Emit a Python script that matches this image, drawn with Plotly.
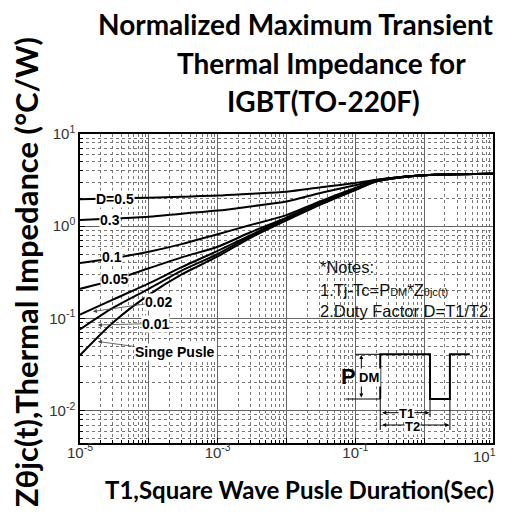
import plotly.graph_objects as go

# ---------------- data ----------------
t1 = [1e-5, 3e-5, 1e-4, 3e-4, 1e-3, 3e-3, 1e-2, 3e-2, 1e-1, 2e-1, 5e-1, 1, 3, 10]
z_d05 = [1.96, 2.00, 2.04, 2.09, 2.15, 2.25, 2.37, 2.63, 2.95, 3.20, 3.45, 3.58, 3.66, 3.70]
z_d03 = [1.17, 1.21, 1.27, 1.37, 1.48, 1.64, 1.85, 2.28, 2.78, 3.16, 3.44, 3.58, 3.66, 3.70]
z_d01 = [0.40, 0.45, 0.53, 0.64, 0.82, 1.03, 1.32, 1.85, 2.60, 3.12, 3.43, 3.58, 3.66, 3.70]
z_d005 = [0.21, 0.26, 0.35, 0.46, 0.60, 0.86, 1.24, 1.78, 2.55, 3.10, 3.43, 3.58, 3.66, 3.70]
z_d002 = [0.11, 0.16, 0.24, 0.36, 0.54, 0.80, 1.22, 1.75, 2.52, 3.08, 3.42, 3.58, 3.66, 3.70]
z_d001 = [0.076, 0.13, 0.21, 0.33, 0.50, 0.78, 1.19, 1.72, 2.50, 3.06, 3.42, 3.58, 3.66, 3.70]
z_single = [0.040, 0.09, 0.18, 0.30, 0.47, 0.75, 1.16, 1.70, 2.47, 3.05, 3.42, 3.58, 3.66, 3.70]

series = [z_d05, z_d03, z_d01, z_d005, z_d002, z_d001, z_single]
series_names = ["D=0.5", "0.3", "0.1", "0.05", "0.02", "0.01", "Singe Pusle"]

x_decades = [1e-5, 1e-4, 1e-3, 1e-2, 1e-1, 1, 10]
x_ticktext = ["10<sup>-5</sup>", "", "10<sup>-3</sup>", "", "10<sup>-1</sup>", "", ""]
x_last_label = "10<sup>1</sup>"   # drawn as an annotation so it stays inside the page
y_decades = [1e-2, 1e-1, 1, 10]
y_ticktext = ["10<sup>-2</sup>", "10<sup>-1</sup>", "10<sup>0</sup>", "10<sup>1</sup>"]

# ---------------- layout geometry (screen pixels of the reference) ----------------
OFF = 8                       # default page body margin
W, H = 508 - 2 * OFF, 514 - 2 * OFF   # figure fits the window without scrollbars
L, R, T, B = 80, 495, 134, 443       # plot area on screen


def PX(p):
    return (p - L) / (R - L)


def PY(p):
    return (B - p) / (B - T)


minor_x = [k * 10.0 ** e for e in range(-5, 1) for k in range(2, 10)]
minor_y = [k * 10.0 ** e for e in range(-3, 1) for k in range(2, 10)]

fig = go.Figure()
for name, z in zip(series_names, series):
    fig.add_trace(go.Scatter(x=t1, y=z, mode="lines", name=name,
                             line=dict(color="black", width=2, shape="spline", smoothing=0.8),
                             showlegend=False, hoverinfo="skip"))

tick_font = dict(family="Arial, Liberation Sans", size=15, color="#333")
axis_common = dict(
    type="log", showline=True, linecolor="black", linewidth=1.5, mirror=True,
    ticks="inside", ticklen=5, tickcolor="black", showgrid=True, gridcolor="#666",
    gridwidth=1, zeroline=False, tickfont=tick_font,
)
fig.update_xaxes(range=[-5, 1], tickvals=x_decades, ticktext=x_ticktext,
                 ticklabelstandoff=-5,
                 minor=dict(tickvals=minor_x, ticks="inside", ticklen=3, tickcolor="black",
                            showgrid=True, gridcolor="#777", griddash="dot", gridwidth=1),
                 **axis_common)
fig.update_yaxes(range=[-2.35, 1], tickvals=y_decades, ticktext=y_ticktext,
                 minor=dict(tickvals=minor_y, ticks="inside", ticklen=3, tickcolor="black",
                            showgrid=True, gridcolor="#777", griddash="dot", gridwidth=1),
                 **axis_common)

ann = []
ann.append(dict(text=x_last_label, x=PX(500), y=PY(455), xref="paper", yref="paper",
                showarrow=False, font=tick_font, xanchor="right", yanchor="middle"))

title_font = dict(family="Lato, Open Sans", size=28, color="black")
for txt, cx, cy in [("<b>Normalized Maximum Transient</b>", 297, 24),
                    ("<b>Thermal Impedance for</b>", 323, 63),
                    ("<b>IGBT(TO-220F)</b>", 325, 101)]:
    ann.append(dict(text=txt, x=PX(cx), y=PY(cy), xref="paper", yref="paper",
                    showarrow=False, font=title_font, xanchor="center", yanchor="middle"))

ann.append(dict(text="<b>Zθjc(t),Thermal Impedance (°C/W)</b>", x=PX(26), y=PY(272),
                xref="paper", yref="paper", showarrow=False, textangle=-90,
                font=dict(family="Lato, Open Sans", size=31, color="black"),
                xanchor="center", yanchor="middle"))
ann.append(dict(text="<b>T1,Square Wave Pusle Duration(Sec)</b>", x=PX(301), y=PY(489),
                xref="paper", yref="paper", showarrow=False,
                font=dict(family="Lato, Open Sans", size=24, color="black"),
                xanchor="center", yanchor="middle"))

lab_font = dict(family="Arial, Liberation Sans", size=14, color="black")
for txt, cx, cy in [("D=0.5", 115, 199), ("0.3", 110.5, 220), ("0.1", 112, 257), ("0.05", 115, 279)]:
    ann.append(dict(text="<b>%s</b>" % txt, x=PX(cx), y=PY(cy), xref="paper", yref="paper",
                    showarrow=False, font=lab_font, bgcolor="white", borderpad=0,
                    xanchor="center", yanchor="middle"))

for txt, cx, cy, tx, ty in [("0.02", 159, 302, 93, 311.5), ("0.01", 155.5, 323.5, 98, 325),
                            ("Singe Pusle", 175, 352, 98, 341.5)]:
    ann.append(dict(text="<b>%s</b>" % txt, x=PX(tx), y=PY(ty), xref="paper", yref="paper",
                    ax=cx - tx, ay=cy - ty, axref="pixel", ayref="pixel",
                    showarrow=True, arrowhead=2, arrowsize=1, arrowwidth=0.8, arrowcolor="#444",
                    font=lab_font, bgcolor="white", borderpad=0))

note_font = dict(family="Arial, Liberation Sans", size=16.5, color="#111")
sm = "<span style='font-size:11px'>%s</span>"
for txt, cy in [("*Notes:", 267), ("1.Tj-Tc=P" + sm % "DM" + "*Z" + sm % "θjc(t)", 290),
                ("2.Duty Factor D=T1/T2", 311)]:
    ann.append(dict(text=txt, x=PX(319), y=PY(cy), xref="paper", yref="paper",
                    showarrow=False, font=note_font, xanchor="left", yanchor="middle"))

# PDM label and dimension arrows of the pulse sketch
ann.append(dict(text="<b>P</b>", x=PX(349.5), y=PY(376), xref="paper", yref="paper",
                showarrow=False, font=dict(family="Arial, Liberation Sans", size=22, color="black"),
                xanchor="center", yanchor="middle"))
arrow_common = dict(xref="paper", yref="paper", axref="pixel", ayref="pixel", text="",
                    showarrow=True, arrowhead=2, arrowsize=0.8, arrowwidth=1,
                    arrowcolor="black", arrowside="end+start")
ann.append(dict(x=PX(362.7), y=PY(355), ax=0, ay=399 - 355, **arrow_common))
ann.append(dict(x=PX(431), y=PY(412.7), ax=382.5 - 431, ay=0, **arrow_common))
ann.append(dict(x=PX(451), y=PY(425), ax=382.5 - 451, ay=0, **arrow_common))
ann.append(dict(text="<b>DM</b>", x=PX(370), y=PY(377), xref="paper", yref="paper",
                showarrow=False, font=dict(family="Arial, Liberation Sans", size=13, color="black"),
                bgcolor="white", borderpad=1, xanchor="center", yanchor="middle"))
for txt, cx, cy in [("T1", 408, 413), ("T2", 414, 426)]:
    ann.append(dict(text="<b>%s</b>" % txt, x=PX(cx), y=PY(cy), xref="paper", yref="paper",
                    showarrow=False, font=dict(family="Arial, Liberation Sans", size=13, color="black"),
                    bgcolor="white", borderpad=0, xanchor="center", yanchor="middle"))

shapes = []
pulse = [(381.7, 399), (381.7, 354.3), (431.7, 354.3), (431.7, 399), (451.7, 399),
         (451.7, 354.3), (471.7, 354.3)]
path = "M " + " L ".join("%.5f,%.5f" % (PX(a), PY(b)) for a, b in pulse)
shapes.append(dict(type="path", path=path, xref="paper", yref="paper",
                   line=dict(color="black", width=2)))
for (a0, b0, a1, b1) in [(356.7, 354.3, 381.7, 354.3), (346.7, 399, 381.7, 399),
                         (381.7, 399, 381.7, 430), (431.7, 399, 431.7, 417),
                         (451.7, 399, 451.7, 430)]:
    shapes.append(dict(type="line", xref="paper", yref="paper", x0=PX(a0), y0=PY(b0),
                       x1=PX(a1), y1=PY(b1), line=dict(color="black", width=1)))

fig.update_layout(width=W, height=H,
                  margin=dict(l=L - OFF, r=(W + OFF) - R, t=T - OFF, b=(H + OFF) - B),
                  paper_bgcolor="white", plot_bgcolor="white",
                  annotations=ann, shapes=shapes, showlegend=False)

fig.write_html("out.html")
